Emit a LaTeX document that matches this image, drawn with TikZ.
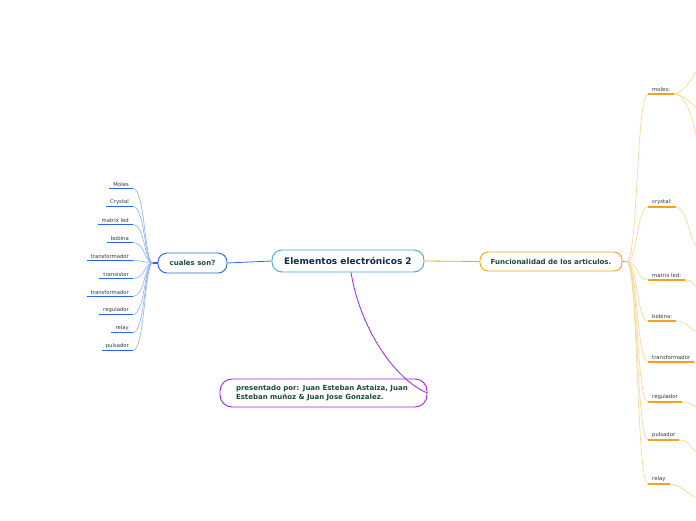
\documentclass[tikz,border=0pt]{standalone}
\usepackage{fontspec}
\setmainfont{DejaVu Sans}
\definecolor{rootline}{HTML}{4EA3DC}
\definecolor{roottext}{HTML}{0E2A4E}
\definecolor{topictext}{HTML}{1C4A3A}
\definecolor{leaftext}{HTML}{333333}
\definecolor{bluemain}{HTML}{2A63EC}
\definecolor{bluetwig}{HTML}{8AAEF7}
\definecolor{orangemain}{HTML}{F7A21B}
\definecolor{orangetwig}{HTML}{FDD18E}
\definecolor{purplemain}{HTML}{A21CF2}
\tikzset{
  central/.style={draw=rootline, line width=0.9pt, rounded corners=10pt, fill=white,
    minimum width=152pt, minimum height=22pt, text=roottext,
    font=\bfseries\fontsize{9}{11}\selectfont},
  topic/.style={draw, line width=0.9pt, fill=white, text=topictext,
    font=\bfseries\fontsize{7}{8.5}\selectfont},
  leaf/.style={inner xsep=4pt, inner ysep=1.8pt, text=leaftext,
    font=\fontsize{5.3}{6}\selectfont},
  blueunder/.style={bluemain, line width=1.1pt},
  bluebranch/.style={bluetwig, line width=0.6pt},
  orangeunder/.style={orangemain, line width=1.1pt},
  orangebranch/.style={orangetwig, line width=0.6pt},
}
\begin{document}
\begin{tikzpicture}[x=1pt,y=-1pt]
  \useasboundingbox (0,0) rectangle (696,520);
  % topics
  \node[central] (root) at (348,261) {Elementos electrónicos 2};
  \node[topic, draw=bluemain, rounded corners=9pt, minimum width=69pt, minimum height=20pt]
    (cuales) at (192.5,263) {cuales son?};
  \node[topic, draw=orangemain, rounded corners=8pt, minimum width=142pt, minimum height=19pt]
    (func) at (551,261.5) {Funcionalidad de los articulos.};
  \node[topic, draw=purplemain, rounded corners=12pt, minimum width=207pt, minimum height=28pt,
    text width=175pt, align=left, font=\bfseries\fontsize{7}{9}\selectfont]
    (autores) at (323.5,393) {presentado por: Juan Esteban Astaiza, Juan\\Esteban muñoz \& Juan Jose Gonzalez.};

  % links from the root
  \draw[bluemain, line width=0.8pt] (root.west) -- (cuales.east);
  \draw[orangemain, line width=0.8pt] (root.east) -- (func.west);
  \draw[purplemain, line width=0.8pt] ([xshift=3pt]root.south)
    .. controls +(10,60) and +(-30,-12) .. (autores.east);

  % left branch
  \coordinate (cknob) at ([xshift=-5pt]cuales.west);
  \draw[bluemain, line width=1.5pt] (cuales.west) -- (cknob);
  \foreach \name [count=\i from 0] in {Moles,Crystal,matrix led,bobina,transformador,
      transistor,transformador,regulador,relay,pulsador} {
    \node[leaf, anchor=south east] (l\i) at (133,{188.5+18*\i}) {\name};
    \draw[blueunder] (l\i.south west) -- (l\i.south east);
    \draw[bluebranch] (l\i.south east) .. controls +(12,0) and +(-8,0) .. (cknob);
  }

  % right branch
  \coordinate (fknob) at ([xshift=4pt]func.east);
  \draw[orangemain, line width=1.5pt] (func.east) -- (fknob);
  \node[leaf, anchor=south west] (r0) at (648,94) {molex:};
  \draw[orangeunder] (r0.south west) -- (r0.south east);
  \draw[orangebranch] (fknob) .. controls +(12,0) and +(-12,0) .. (r0.south west);
  \coordinate (m1) at (700,66);
  \coordinate (m2) at (700,110);
  \coordinate (m3) at (698,150);
  \draw[orangebranch] (r0.south east) .. controls +(10,0) and +(-6,8) .. (m1);
  \draw[orangebranch] (r0.south east) .. controls +(10,0) and +(-8,-4) .. (m2);
  \draw[orangebranch] (r0.south east) .. controls +(12,0) and +(-2,-25) .. (m3);
  \foreach \y/\name/\ey [count=\i] in {207/crystal:/248, 280/matrix led:/287,
      321/bobina:/332, 362/transformador/362, 402/regulador/407,
      440/pulsador/452, 484/relay/498} {
    \node[leaf, anchor=south west] (r\i) at (648,\y) {\name};
    \coordinate (e\i) at (700,\ey);
    \draw[orangeunder] (r\i.south west) -- (r\i.south east);
    \draw[orangebranch] (fknob) .. controls +(12,0) and +(-12,0) .. (r\i.south west);
    \draw[orangebranch] (r\i.south east) .. controls +(12,0) and +(-10,0) .. (e\i);
  }
\end{tikzpicture}
\end{document}
